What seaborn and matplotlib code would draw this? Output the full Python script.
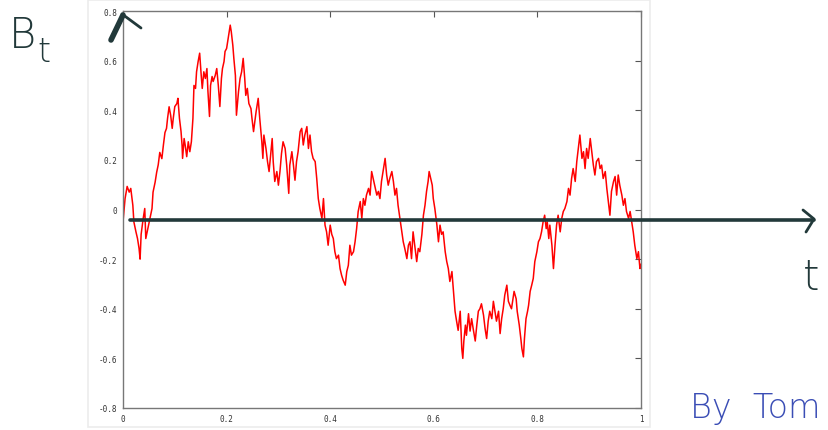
import numpy as np
import pandas as pd
import matplotlib
matplotlib.use("Agg")
import matplotlib.pyplot as plt
import seaborn as sns
from matplotlib.lines import Line2D
from matplotlib.patches import Rectangle

# path (time, value)
t = [0.000, 0.004, 0.008, 0.012, 0.015, 0.019, 0.021, 0.025, 0.028, 0.031, 0.033, 0.035, 0.039, 0.042,
     0.044, 0.048, 0.052, 0.056, 0.058, 0.062, 0.065, 0.068, 0.071, 0.075, 0.078, 0.081, 0.084, 0.086,
     0.089, 0.092, 0.095, 0.097, 0.100, 0.104, 0.106, 0.109, 0.112, 0.114, 0.115, 0.118, 0.120, 0.123,
     0.126, 0.129, 0.132, 0.135, 0.137, 0.140, 0.142, 0.145, 0.148, 0.151, 0.153, 0.156, 0.159, 0.162,
     0.164, 0.167, 0.169, 0.172, 0.174, 0.178, 0.181, 0.184, 0.187, 0.190, 0.192, 0.195, 0.197, 0.200,
     0.203, 0.207, 0.209, 0.212, 0.214, 0.217, 0.219, 0.223, 0.226, 0.229, 0.232, 0.235, 0.237, 0.240,
     0.243, 0.247, 0.249, 0.252, 0.257, 0.261, 0.264, 0.268, 0.270, 0.272, 0.276, 0.279, 0.282, 0.285,
     0.288, 0.290, 0.293, 0.297, 0.300, 0.303, 0.306, 0.309, 0.313, 0.316, 0.320, 0.322, 0.326, 0.329,
     0.332, 0.335, 0.338, 0.342, 0.345, 0.348, 0.351, 0.355, 0.358, 0.361, 0.364, 0.367, 0.371, 0.374,
     0.377, 0.380, 0.384, 0.387, 0.390, 0.393, 0.396, 0.400, 0.403, 0.406, 0.409, 0.412, 0.416, 0.419,
     0.422, 0.425, 0.429, 0.432, 0.435, 0.438, 0.441, 0.445, 0.448, 0.451, 0.454, 0.458, 0.461, 0.464,
     0.467, 0.470, 0.474, 0.477, 0.480, 0.483, 0.486, 0.490, 0.493, 0.496, 0.499, 0.503, 0.506, 0.509,
     0.512, 0.515, 0.519, 0.522, 0.525, 0.528, 0.531, 0.535, 0.538, 0.541, 0.544, 0.548, 0.551, 0.554,
     0.557, 0.560, 0.564, 0.567, 0.570, 0.573, 0.577, 0.580, 0.583, 0.586, 0.589, 0.591, 0.594, 0.597,
     0.599, 0.602, 0.606, 0.609, 0.612, 0.615, 0.618, 0.622, 0.625, 0.628, 0.631, 0.635, 0.638, 0.641,
     0.644, 0.647, 0.651, 0.654, 0.656, 0.658, 0.661, 0.663, 0.667, 0.670, 0.673, 0.676, 0.680, 0.683,
     0.686, 0.689, 0.692, 0.696, 0.699, 0.702, 0.705, 0.708, 0.712, 0.715, 0.718, 0.721, 0.725, 0.728,
     0.731, 0.734, 0.737, 0.741, 0.744, 0.747, 0.750, 0.755, 0.759, 0.761, 0.765, 0.768, 0.770, 0.773,
     0.775, 0.778, 0.781, 0.783, 0.786, 0.789, 0.792, 0.795, 0.799, 0.802, 0.805, 0.808, 0.811, 0.814,
     0.817, 0.819, 0.822, 0.824, 0.828, 0.831, 0.834, 0.837, 0.840, 0.844, 0.847, 0.850, 0.853, 0.857,
     0.860, 0.863, 0.866, 0.869, 0.873, 0.876, 0.879, 0.882, 0.886, 0.889, 0.892, 0.895, 0.898, 0.902,
     0.905, 0.908, 0.911, 0.914, 0.918, 0.921, 0.924, 0.927, 0.931, 0.934, 0.937, 0.940, 0.943, 0.947,
     0.950, 0.953, 0.956, 0.959, 0.963, 0.966, 0.969, 0.972, 0.976, 0.979, 0.983, 0.985, 0.988, 0.992,
     0.995, 0.998, 1.000]
b = [-0.05, 0.044, 0.093, 0.07, 0.085, 0.017, -0.05, -0.09, -0.117, -0.157, -0.2, -0.10, -0.036, 0.004,
     -0.117, -0.077, -0.036, 0.004, 0.07, 0.11, 0.15, 0.18, 0.23, 0.205, 0.26, 0.31, 0.327, 0.367,
     0.414, 0.38, 0.327, 0.367, 0.415, 0.427, 0.448, 0.367, 0.315, 0.26, 0.206, 0.286, 0.26, 0.213,
     0.273, 0.233, 0.273, 0.367, 0.50, 0.488, 0.555, 0.596, 0.63, 0.54, 0.488, 0.555, 0.528, 0.568,
     0.475, 0.375, 0.50, 0.536, 0.516, 0.54, 0.568, 0.50, 0.415, 0.528, 0.568, 0.596, 0.637, 0.649,
     0.69, 0.743, 0.717, 0.662, 0.609, 0.54, 0.38, 0.475, 0.528, 0.555, 0.609, 0.528, 0.46, 0.488,
     0.427, 0.407, 0.367, 0.314, 0.395, 0.448, 0.367, 0.273, 0.206, 0.30, 0.246, 0.193, 0.153, 0.219,
     0.286, 0.193, 0.113, 0.153, 0.098, 0.153, 0.226, 0.273, 0.246, 0.179, 0.065, 0.179, 0.233, 0.179,
     0.118, 0.193, 0.233, 0.314, 0.327, 0.26, 0.30, 0.334, 0.246, 0.30, 0.233, 0.206, 0.193, 0.125,
     0.044, 0.004, -0.036, 0.044, -0.063, -0.09, -0.144, -0.063, -0.10, -0.117, -0.17, -0.198, -0.184, -0.238,
     -0.265, -0.285, -0.305, -0.25, -0.225, -0.144, -0.184, -0.17, -0.13, -0.077, -0.008, 0.032, -0.036, 0.044,
     0.017, 0.058, 0.085, 0.058, 0.153, 0.125, 0.098, 0.058, 0.073, 0.044, 0.113, 0.165, 0.206, 0.139,
     0.098, 0.125, 0.153, 0.113, 0.058, 0.085, 0.017, -0.043, -0.09, -0.13, -0.157, -0.198, -0.144, -0.13,
     -0.198, -0.09, -0.157, -0.21, -0.157, -0.17, -0.10, -0.023, 0.017, 0.073, 0.113, 0.153, 0.125, 0.098,
     0.044, 0.004, -0.063, -0.13, -0.063, -0.10, -0.09, -0.17, -0.21, -0.238, -0.29, -0.25, -0.33, -0.41,
     -0.45, -0.487, -0.41, -0.56, -0.60, -0.53, -0.466, -0.507, -0.42, -0.49, -0.44, -0.48, -0.53, -0.466,
     -0.41, -0.40, -0.38, -0.426, -0.48, -0.52, -0.45, -0.41, -0.44, -0.37, -0.41, -0.45, -0.41, -0.50,
     -0.44, -0.40, -0.345, -0.305, -0.37, -0.386, -0.40, -0.33, -0.36, -0.41, -0.466, -0.52, -0.56, -0.594,
     -0.52, -0.44, -0.41, -0.386, -0.33, -0.305, -0.278, -0.21, -0.17, -0.13, -0.117, -0.09, -0.05, -0.023,
     -0.077, -0.05, -0.117, -0.063, -0.144, -0.238, -0.144, -0.063, -0.023, -0.09, -0.036, -0.008, 0.004, 0.032,
     0.085, 0.058, 0.125, 0.165, 0.113, 0.193, 0.246, 0.30, 0.206, 0.233, 0.165, 0.246, 0.206, 0.286,
     0.233, 0.179, 0.139, 0.193, 0.206, 0.165, 0.179, 0.125, 0.153, 0.085, 0.032, -0.023, 0.073, 0.113,
     0.133, 0.058, 0.139, 0.098, 0.058, 0.017, 0.044, -0.008, -0.036, -0.008, -0.063, -0.09, -0.144, -0.198,
     -0.17, -0.238, -0.22]

xticks = [0, 0.2, 0.4, 0.6, 0.8, 1]
xlabels = ["0", "0.2", "0.4", "0.6", "0.8", "1"]
yticks = [-0.8, -0.6, -0.4, -0.2, 0, 0.2, 0.4, 0.6, 0.8]
ylabels = ["-0.8", "-0.6", "-0.4", "-0.2", "0", "0.2", "0.4", "0.6", "0.8"]

df = pd.DataFrame({"t": t, "B": b})

sns.set_theme(style="white")
plt.rcParams["font.family"] = ["DejaVu Sans"]

W, H = 829, 431
fig = plt.figure(figsize=(W / 100, H / 100), dpi=100)
fig.patch.set_facecolor("white")

def fx(px):
    return px / W

def fy(py):
    return 1 - py / H

# faint frame of the original screenshot
fig.add_artist(Rectangle((fx(88), fy(428)), fx(650) - fx(88), fy(1) - fy(428),
                         transform=fig.transFigure, facecolor="white",
                         edgecolor="#ececec", lw=1.2, zorder=0))

ax = fig.add_axes([fx(123), fy(409), fx(641) - fx(123), fy(12) - fy(409)])
ax.set_facecolor("white")
sns.lineplot(data=df, x="t", y="B", ax=ax, color="#ff0000", lw=1.1,
             sort=False, estimator=None)

ax.set_xlim(0, 1)
ax.set_ylim(-0.8, 0.8)
ax.set_xticks(xticks)
ax.set_xticklabels(xlabels)
ax.set_yticks(yticks)
ax.set_yticklabels(ylabels)
ax.set_xlabel("")
ax.set_ylabel("")
ax.tick_params(direction="in", length=4, width=0.8, color="#555555",
               top=True, right=True, labelsize=5.5, labelcolor="#333333",
               pad=4)
for lab in ax.get_xticklabels() + ax.get_yticklabels():
    lab.set_family("DejaVu Sans Mono")
for sp in ax.spines.values():
    sp.set_color("#777777")
    sp.set_linewidth(1.0)

ink = "#22393a"
# horizontal t-axis arrow drawn over the plot
fig.add_artist(Line2D([fx(130), fx(814)], [fy(221), fy(221)], color=ink, lw=2.6,
                      solid_capstyle="round", transform=fig.transFigure))
fig.add_artist(Line2D([fx(803), fx(814), fx(806)], [fy(211), fy(220), fy(233)],
                      color=ink, lw=2.0, solid_capstyle="round",
                      solid_joinstyle="round", transform=fig.transFigure))
# caret at the top of the B axis
fig.add_artist(Line2D([fx(111), fx(123)], [fy(41), fy(16)], color=ink, lw=4.0,
                      solid_capstyle="round", transform=fig.transFigure))
fig.add_artist(Line2D([fx(122), fx(141)], [fy(15), fy(29)], color=ink, lw=2.0,
                      solid_capstyle="round", transform=fig.transFigure))

fig.text(fx(9), fy(48), "B", fontsize=30, color=ink, family="DejaVu Sans",
         fontweight="light", ha="left", va="baseline")
fig.text(fx(37), fy(62), "t", fontsize=24, color=ink, family="DejaVu Sans",
         fontweight="light", ha="left", va="baseline")
fig.text(fx(803), fy(290), "t", fontsize=30, color=ink, family="DejaVu Sans",
         fontweight="light", ha="left", va="baseline")
fig.text(fx(690), fy(418), "By  Tom", fontsize=24, color="#3a4db5",
         family="DejaVu Sans", fontweight="light", ha="left", va="baseline")

fig.savefig("out.png", dpi=100)
